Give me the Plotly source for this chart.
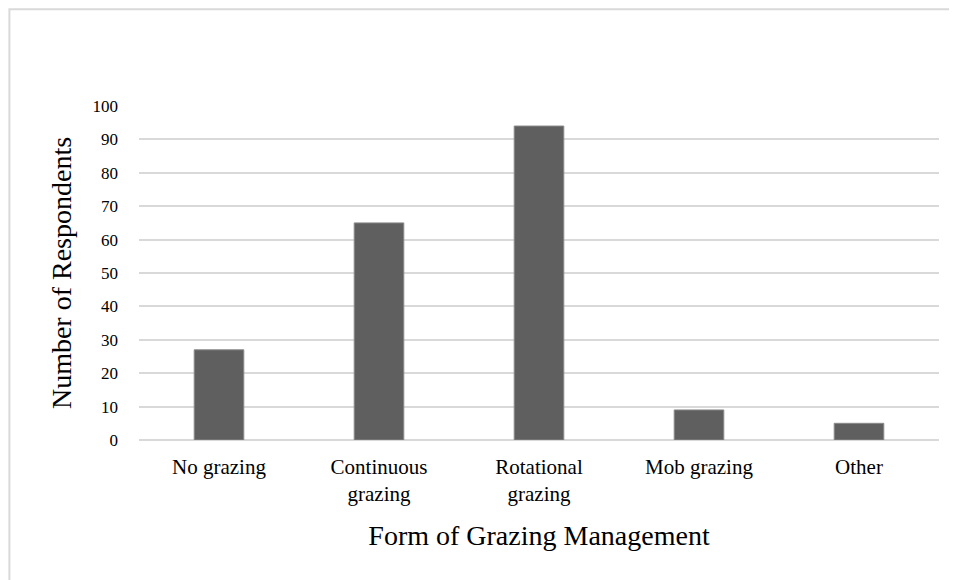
import plotly.graph_objects as go

categories = ["No grazing", "Continuous<br>grazing", "Rotational<br>grazing", "Mob grazing", "Other"]
respondents = [27, 65, 94, 9, 5]
y_ticks = [0, 10, 20, 30, 40, 50, 60, 70, 80, 90, 100]

FONT = "Liberation Serif, Times New Roman, serif"

fig = go.Figure(
    go.Bar(
        x=categories,
        y=respondents,
        marker=dict(color="#5f5f5f", line=dict(color="#8a8a8a", width=1)),
    )
)

# page has an 8px body margin, so margins are shifted to land the plot area
fig.update_layout(
    width=957,
    height=580,
    paper_bgcolor="white",
    plot_bgcolor="white",
    margin=dict(l=131, r=26, t=98, b=148),
    bargap=0.69,
    showlegend=False,
    font=dict(family=FONT, color="black", size=18),
)

fig.update_xaxes(
    showline=False,
    showgrid=False,
    tickfont=dict(size=21, family=FONT),
    ticklabelstandoff=12,
    title=dict(text="Form of Grazing Management", font=dict(size=28, family=FONT), standoff=20),
)

fig.update_yaxes(
    range=[0, 100],
    tickvals=y_ticks,
    showgrid=True,
    gridcolor="#d9d9d9",
    gridwidth=2,
    zeroline=True,
    zerolinecolor="#d9d9d9",
    zerolinewidth=2,
    tickfont=dict(size=17, family=FONT),
    ticklabelstandoff=20,
    title=dict(text="Number of Respondents", font=dict(size=28, family=FONT), standoff=12),
)

# light frame around the chart area
fig.add_shape(
    type="rect", xref="paper", yref="paper",
    x0=-0.162, x1=1.1, y0=-0.6, y1=1.29,
    line=dict(color="#d9d9d9", width=2), layer="below",
)

fig.write_html("out.html")
